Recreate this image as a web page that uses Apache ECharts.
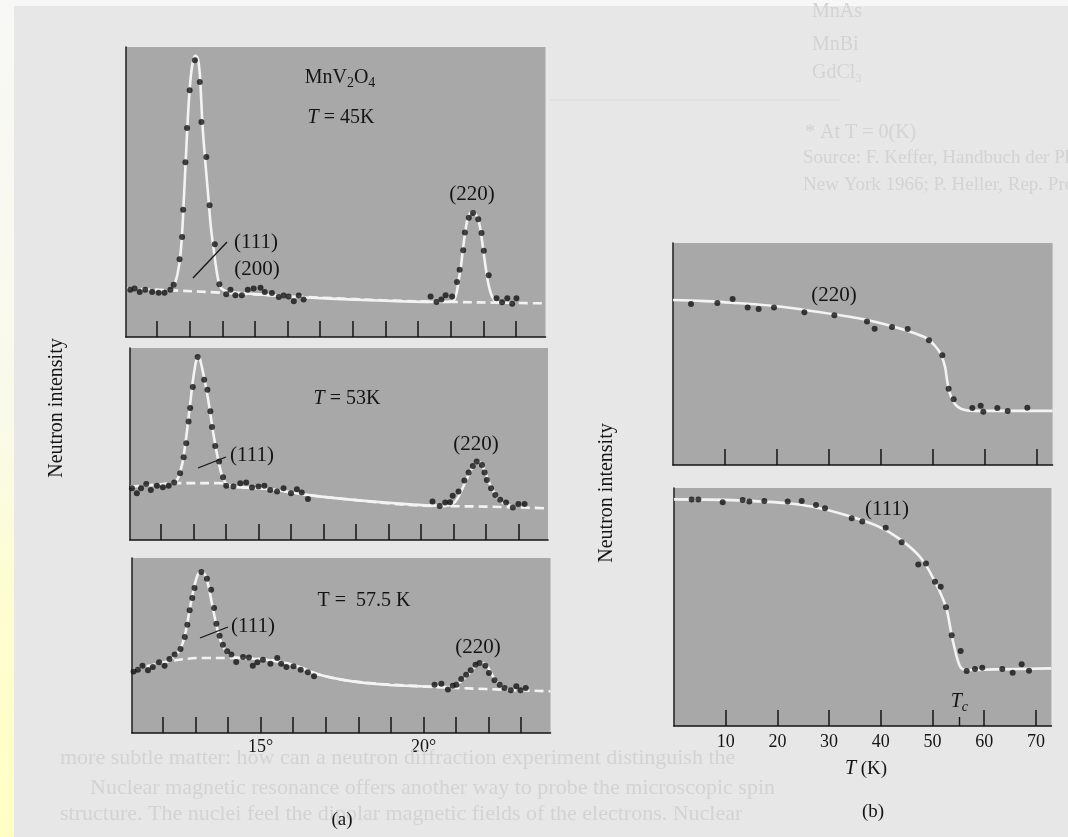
<!DOCTYPE html>
<html>
<head>
<meta charset="utf-8">
<script src="https://cdn.jsdelivr.net/npm/echarts@6/dist/echarts.min.js"></script>
<style>
  html, body { margin: 0; padding: 0; }
  body { width: 1068px; height: 837px; overflow: hidden; background: #e7e7e7; }
  #chart { width: 1068px; height: 837px; }
</style>
</head>
<body>
<div id="chart"></div>
<script>
// MnV2O4 neutron diffraction.
// (a) angular scans through the (111) and (220) reflections at three temperatures,
// (b) peak intensity of (220) and (111) versus temperature.

// ---- axes ----
const angleTicks = [12, 13, 14, 15, 16, 17, 18, 19, 20, 21, 22, 23];
const angleLabels = [15, 20];
const tempTicks = [10, 20, 30, 40, 50, 60, 70];
const criticalTemp = 55.2;

// ---- T = 45 K scan: [2θ (deg), intensity] ----
const scan45Dots = [
  [11.18,16.3],[11.31,16.7],[11.47,15.5],[11.64,16.3],[11.85,15.5],[12.05,15.3],[12.23,15.3],[12.41,16.3],
  [12.51,18.0],[12.69,26.8],[12.77,34.5],[12.80,43.9],[12.87,60.3],[12.92,72.1],[13.00,85.1],[13.16,95.4],
  [13.31,87.9],[13.36,74.1],[13.51,62.1],[13.61,45.4],[13.77,32.0],[13.91,18.2],[14.12,14.7],[14.25,16.3],
  [14.40,14.4],[14.60,14.4],[14.78,16.3],[14.96,16.7],[15.17,17.0],[15.30,15.5],[15.52,15.2],[15.73,13.8],
  [15.88,14.3],[16.03,14.0],[16.19,12.3],[16.34,14.3],[16.49,12.9],
  [20.38,14.0],[20.56,12.1],[20.71,12.9],[20.84,14.4],[21.04,14.0],[21.19,19.0],[21.27,23.2],[21.38,29.9],
  [21.43,36.0],[21.55,41.1],[21.68,42.8],[21.84,40.6],[21.94,35.9],[22.01,29.7],[22.16,21.3],[22.40,13.4],
  [22.57,12.0],[22.73,13.4],[22.88,11.5],[23.01,13.4]
];
const scan45Fit = [
  [12.51,17.2],[12.63,21.8],[12.72,28.7],[12.78,37.9],[12.82,47.1],[12.86,56.3],[12.90,65.5],[12.94,74.7],
  [12.99,83.9],[13.05,91.4],[13.12,96.0],[13.18,97.0],[13.25,96.0],[13.31,90.8],[13.35,82.8],[13.39,73.6],
  [13.45,64.4],[13.51,56.3],[13.58,47.1],[13.65,37.9],[13.74,29.9],[13.84,21.8],[13.94,17.2],[14.09,15.9],
  [14.25,15.5],[15.47,14.4],[16.60,13.6],[18.03,12.9],[19.56,12.3],[20.58,12.1],[21.00,12.2],[21.09,12.6],
  [21.17,14.9],[21.24,19.5],[21.32,25.3],[21.38,31.0],[21.45,36.8],[21.53,41.4],[21.65,43.1],[21.75,42.5],
  [21.86,39.7],[21.94,34.5],[22.01,28.7],[22.08,23.0],[22.16,17.8],[22.27,13.8],[22.40,12.1],[22.62,11.8]
];
const scan45Base = [
  [11.08,16.7],[12.41,16.1],[13.94,15.3],[15.47,14.4],[17.00,13.6],[19.05,12.6],[21.09,12.1],[22.62,11.8],[23.90,11.6]
];

// ---- T = 53 K scan ----
const scan53Dots = [
  [11.11,27.0],[11.26,24.3],[11.39,27.0],[11.55,29.2],[11.69,26.1],[11.88,28.2],[12.06,27.5],[12.24,28.2],
  [12.41,29.9],[12.59,34.8],[12.70,43.1],[12.78,50.4],[12.85,61.7],[12.90,68.7],[12.98,79.7],[13.13,95.3],
  [13.33,83.5],[13.43,78.3],[13.52,67.0],[13.57,58.8],[13.67,49.0],[13.79,40.9],[13.91,32.7],[14.01,28.3],
  [14.23,27.8],[14.44,29.6],[14.62,29.9],[14.80,27.3],[15.00,27.8],[15.18,28.3],[15.36,26.1],[15.57,25.2],
  [15.77,27.0],[16.00,24.3],[16.18,26.4],[16.33,24.7],[16.52,21.4],
  [20.35,20.0],[20.57,17.7],[20.74,19.5],[20.89,19.7],[20.97,23.0],[21.15,25.2],[21.33,31.0],[21.46,35.1],
  [21.59,38.6],[21.71,40.9],[21.87,39.1],[21.95,35.1],[22.02,31.3],[22.15,27.0],[22.28,23.5],[22.43,20.9],
  [22.61,19.5],[22.82,16.9],[22.99,18.8],[23.18,18.8]
];
const scan53Fit = [
  [12.44,29.9],[12.54,32.7],[12.61,36.5],[12.68,41.7],[12.74,48.7],[12.80,56.5],[12.86,65.2],[12.92,73.9],
  [12.98,82.6],[13.05,90.4],[13.11,94.8],[13.17,95.3],[13.23,92.2],[13.31,86.1],[13.39,79.1],[13.47,71.3],
  [13.54,63.5],[13.61,55.7],[13.68,48.7],[13.76,41.7],[13.84,35.7],[13.93,31.3],[14.03,29.2],[14.23,27.8],
  [15.36,26.4],[16.49,23.5],[17.92,20.9],[19.46,18.8],[20.48,17.9],[20.85,18.0],[21.00,19.1],[21.12,21.7],
  [21.25,26.1],[21.39,31.3],[21.51,35.7],[21.63,39.1],[21.73,40.9],[21.84,40.0],[21.94,36.5],[22.04,32.2],
  [22.17,27.0],[22.31,23.0],[22.45,20.0],[22.64,18.3],[22.89,17.4]
];
const scan53Base = [
  [11.06,27.8],[11.77,28.7],[12.49,29.6],[13.82,29.6],[14.23,27.8],[15.36,26.4],[16.49,23.5],[17.92,20.9],
  [19.97,17.9],[22.00,17.4],[23.90,16.5]
];

// ---- T = 57.5 K scan ----
const scan57Dots = [
  [11.10,35.2],[11.23,36.2],[11.37,38.5],[11.54,35.8],[11.69,37.7],[11.88,40.4],[12.05,38.5],[12.20,42.3],
  [12.36,44.8],[12.54,48.0],[12.67,54.9],[12.75,61.9],[12.82,70.1],[12.90,77.1],[12.97,82.9],[13.18,92.0],
  [13.35,88.2],[13.48,81.9],[13.57,71.4],[13.64,62.5],[13.74,55.6],[13.84,50.5],[13.97,46.7],[14.10,44.8],
  [14.25,40.6],[14.46,43.4],[14.64,43.2],[14.76,38.5],[14.90,40.4],[15.07,41.9],[15.30,39.6],[15.51,42.9],
  [15.63,39.6],[15.79,37.7],[16.01,38.1],[16.23,36.2],[16.45,34.7],[16.64,32.4],
  [20.34,27.6],[20.55,28.2],[20.75,24.8],[20.90,27.0],[21.01,27.6],[21.16,30.9],[21.31,33.3],[21.45,35.8],
  [21.60,39.0],[21.72,40.0],[21.90,38.5],[22.01,34.3],[22.18,30.1],[22.34,27.6],[22.49,25.7],[22.68,24.4],
  [22.85,26.7],[22.98,24.4],[23.14,25.7]
];
const scan57Fit = [
  [12.20,41.5],[12.36,43.8],[12.49,46.7],[12.59,50.5],[12.68,56.2],[12.75,62.9],[12.82,70.5],[12.90,78.1],
  [12.98,85.1],[13.07,90.5],[13.17,92.4],[13.25,91.8],[13.33,88.6],[13.41,82.9],[13.49,75.2],[13.58,67.0],
  [13.66,60.0],[13.74,54.3],[13.84,49.5],[13.97,46.1],[14.10,43.8],[14.40,42.8],[15.17,41.9],[15.99,39.0],
  [16.81,33.3],[17.83,29.5],[18.86,27.6],[19.88,26.7],[20.80,26.3],[21.06,28.2],[21.21,30.5],[21.37,33.3],
  [21.52,36.6],[21.67,39.0],[21.81,40.0],[21.93,39.0],[22.05,35.2],[22.18,30.9],[22.34,27.6],[22.54,25.3],
  [22.85,24.4]
];
const scan57Base = [
  [11.08,36.2],[12.20,41.0],[13.23,42.9],[14.05,42.9],[15.17,41.9],[15.99,39.0],[16.81,33.3],[17.83,29.5],
  [19.88,26.7],[21.93,25.1],[23.90,23.8]
];

// ---- (220) peak intensity vs T: [T (K), intensity] ----
const peak220Dots = [
  [3.46,72.5],[8.53,73.0],[11.47,74.8],[14.36,70.9],[16.47,70.3],[19.42,71.0],[25.26,68.8],[31.03,67.4],
  [37.31,64.6],[38.78,61.4],[42.12,62.2],[45.13,61.3],[49.23,56.2],[51.79,49.4],[53.01,34.4],[53.97,29.6],
  [57.56,25.7],[59.17,26.7],[59.68,24.0],[62.37,25.7],[64.36,24.3],[68.14,25.8]
];
const peak220Fit = [
  [0,74.3],[6,73.8],[11.3,73.1],[20.9,71.3],[30.5,68.0],[38.2,64.9],[44.6,60.8],[48.8,57.1],[50.4,53.6],
  [51.5,50.0],[52.3,44.3],[52.75,37.5],[53.15,33.0],[53.8,29.0],[54.7,26.3],[56.15,24.8],[58.5,24.4],
  [65,24.4],[73,24.4]
];

// ---- (111) peak intensity vs T ----
const peak111Dots = [
  [3.42,95.2],[4.70,95.2],[9.42,94.0],[13.29,95.0],[14.57,94.3],[17.47,94.5],[21.99,94.3],[24.70,94.5],
  [27.47,92.9],[29.21,91.5],[34.37,87.3],[36.42,85.9],[40.95,83.3],[44.04,77.2],[47.25,67.9],[48.74,68.3],
  [50.48,60.6],[51.59,58.5],[52.61,49.9],[53.71,38.1],[55.45,31.5],[56.62,23.1],[58.22,23.9],[59.63,24.5],
  [63.50,23.9],[65.51,22.4],[67.25,25.9],[68.67,23.2]
];
const peak111Fit = [
  [0,95.2],[10,95.0],[16.9,94.3],[22,93.6],[26.6,92.2],[33.0,88.8],[39.5,83.9],[43.9,78.2],[47.8,70.5],
  [50.48,60.6],[52.61,49.9],[53.71,38.1],[54.87,27.7],[55.6,24.2],[56.6,23.5],[58,23.5],[61.8,23.8],[73,24.2]
];

// ---- styling ----
const FONT = 'Liberation Serif';
const INK = '#141414';
const PANEL = '#a8a8a8';
const CURVE = '#f3f3f3';
const DOT = '#141414';
const FAINT = '#d3d3d3';

const panels = [
  { left: 126, top: 47,  width: 419.5, height: 290 },
  { left: 130, top: 348, width: 418,   height: 192 },
  { left: 132, top: 558, width: 418.5, height: 175 },
  { left: 673, top: 243, width: 379.6, height: 222 },
  { left: 674, top: 488, width: 377.4, height: 238 }
];

const grid = panels.map(p => Object.assign({
  show: true, backgroundColor: PANEL, borderWidth: 0, containLabel: false, outerBoundsMode: 'none'
}, p));

function xAxisFor(i, kind, withLabels) {
  const angle = kind === 'angle';
  return {
    gridIndex: i, type: 'value', position: 'bottom',
    min: angle ? 11.05 : 0, max: angle ? 23.9 : 73,
    axisLine: { show: true, onZero: false, lineStyle: { color: INK, width: 1.6 } },
    axisTick: { show: true, inside: true, length: 16,
      customValues: angle ? angleTicks : tempTicks, lineStyle: { color: INK, width: 1.5 } },
    axisLabel: { show: withLabels, customValues: angle ? angleLabels : tempTicks,
      formatter: angle ? '{value}°' : '{value}', margin: angle ? 5 : 7,
      color: INK, fontFamily: FONT, fontSize: 18 },
    splitLine: { show: false }
  };
}

const xAxis = [
  xAxisFor(0, 'angle', false),
  xAxisFor(1, 'angle', false),
  xAxisFor(2, 'angle', true),
  xAxisFor(3, 'temp', false),
  xAxisFor(4, 'temp', true),
  // short marker for the transition temperature
  {
    gridIndex: 4, type: 'value', position: 'bottom', min: 0, max: 73,
    axisLine: { show: false },
    axisTick: { show: true, inside: true, length: 9, customValues: [criticalTemp],
      lineStyle: { color: INK, width: 1.4 } },
    axisLabel: { show: true, inside: true, customValues: [criticalTemp], margin: 12,
      formatter: () => '{i|T}{s|c}', color: INK,
      rich: { i: { fontStyle: 'italic', fontFamily: FONT, fontSize: 20, color: INK },
              s: { fontStyle: 'italic', fontFamily: FONT, fontSize: 14, color: INK, padding: [10, 0, 0, 0] } } },
    splitLine: { show: false }
  }
];

const yAxis = panels.map((p, i) => ({
  gridIndex: i, type: 'value', min: 0, max: 100,
  axisLine: { show: true, onZero: false, lineStyle: { color: '#2a2a2a', width: 1.6 } },
  axisTick: { show: false }, axisLabel: { show: false }, splitLine: { show: false }
}));

function curve(i, data, dashed) {
  return {
    type: 'line', xAxisIndex: i, yAxisIndex: i, data, smooth: 0.35, showSymbol: false, silent: true,
    lineStyle: { color: CURVE, width: 2.6, type: dashed ? [9, 5] : 'solid' }, z: dashed ? 2 : 3
  };
}
function dots(i, data) {
  return {
    type: 'scatter', xAxisIndex: i, yAxisIndex: i, data, symbolSize: 6, silent: true,
    itemStyle: { color: DOT }, z: 4
  };
}

const series = [
  curve(0, scan45Base, true), curve(0, scan45Fit, false), dots(0, scan45Dots),
  curve(1, scan53Base, true), curve(1, scan53Fit, false), dots(1, scan53Dots),
  curve(2, scan57Base, true), curve(2, scan57Fit, false), dots(2, scan57Dots),
  curve(3, peak220Fit, false), dots(3, peak220Dots),
  curve(4, peak111Fit, false), dots(4, peak111Dots)
];

// ---- annotations ----
const richStyles = {
  i: { fontStyle: 'italic', fontFamily: FONT, fontSize: 20 },
  s: { fontFamily: FONT, fontSize: 14, padding: [10, 0, 0, 0] }
};
function label(x, y, str, size, color, extra) {
  return Object.assign({
    type: 'text', x, y, z: 100, silent: true,
    style: {
      text: str, fill: color || INK, fontFamily: FONT, fontSize: size || 20,
      textAlign: 'center', textVerticalAlign: 'middle', align: 'center', verticalAlign: 'middle',
      rich: richStyles
    }
  }, extra || {});
}
function faint(x, y, str, size) {
  return {
    type: 'text', x, y, z: 1, silent: true,
    style: { text: str, fill: FAINT, fontFamily: FONT, fontSize: size || 20,
      textAlign: 'left', textVerticalAlign: 'middle', align: 'left', verticalAlign: 'middle' }
  };
}
function leader(x1, y1, x2, y2) {
  return { type: 'line', z: 100, silent: true, shape: { x1, y1, x2, y2 },
    style: { stroke: INK, lineWidth: 1.3 } };
}

const graphic = [
  // page margins
  { type: 'rect', z: 1, silent: true, shape: { x: 0, y: 0, width: 1068, height: 6 }, style: { fill: '#f7f7f7' } },
  { type: 'rect', z: 1, silent: true, shape: { x: 0, y: 0, width: 14, height: 837 },
    style: { fill: { type: 'linear', x: 0, y: 0, x2: 0, y2: 1,
      colorStops: [{ offset: 0, color: '#f8f8f6' }, { offset: 0.5, color: '#fafaea' },
                   { offset: 0.7, color: '#fdfdd2' }, { offset: 1, color: '#ffffc4' }] } } },

  // text of the page around the figure
  faint(812, 12, 'MnAs', 20), faint(812, 45, 'MnBi', 20), faint(812, 73, 'GdCl₃', 20),
  { type: 'line', z: 1, silent: true, shape: { x1: 550, y1: 100, x2: 840, y2: 100 }, style: { stroke: '#d8d8d8', lineWidth: 1.2 } },
  faint(805, 133, '* At T = 0(K)', 20),
  faint(803, 158, 'Source: F. Keffer, Handbuch der Physik, vol. 18', 19),
  faint(803, 185, 'New York 1966; P. Heller, Rep. Prog. Phys.', 19),
  faint(60, 758, 'more subtle matter: how can a neutron diffraction experiment distinguish the', 22),
  faint(90, 788, 'Nuclear magnetic resonance offers another way to probe the microscopic spin', 22),
  faint(60, 814, 'structure. The nuclei feel the dipolar magnetic fields of the electrons. Nuclear', 22),

  // (a) panel annotations
  label(340, 78, 'MnV{s|2}O{s|4}', 20),
  label(341, 118, '{i|T} = 45K', 20),
  label(472, 194, '(220)', 21),
  label(256, 242, '(111)', 21),
  label(257, 269, '(200)', 21),
  leader(193, 278, 227, 242),

  label(347, 399, '{i|T} = 53K', 20),
  label(476, 444, '(220)', 21),
  label(252, 455, '(111)', 21),
  leader(198, 468, 226, 457),

  label(364, 601, 'T =  57.5 K', 20),
  label(478, 647, '(220)', 21),
  label(253, 626, '(111)', 21),
  leader(200, 638, 228, 627),

  // (b) panel annotations
  label(834, 295, '(220)', 21),
  label(887, 509, '(111)', 21),

  // axis titles and panel tags
  label(57, 408, 'Neutron intensity', 20, INK, { rotation: Math.PI / 2 }),
  label(607, 493, 'Neutron intensity', 20, INK, { rotation: Math.PI / 2 }),
  label(866, 769, '{i|T} (K)', 19),
  label(342, 820, '(a)', 19),
  label(873, 812, '(b)', 19)
];

const chart = echarts.init(document.getElementById('chart'), null, { renderer: 'canvas', width: 1068, height: 837 });
chart.setOption({
  animation: false,
  backgroundColor: '#e7e7e7',
  grid, xAxis, yAxis, series, graphic
});
</script>
</body>
</html>
